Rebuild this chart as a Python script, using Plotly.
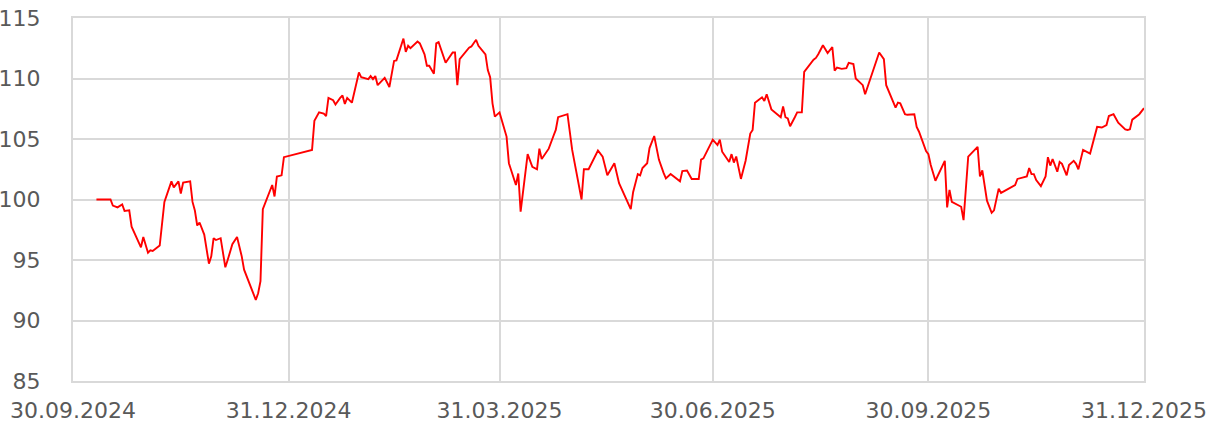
import plotly.graph_objects as go

dates = [
    "2024-10-10", "2024-10-16", "2024-10-17", "2024-10-19", "2024-10-21", "2024-10-22", "2024-10-24", "2024-10-25",
    "2024-10-29", "2024-10-30", "2024-11-01", "2024-11-02", "2024-11-03", "2024-11-06", "2024-11-08", "2024-11-11",
    "2024-11-12", "2024-11-14", "2024-11-15", "2024-11-16", "2024-11-19", "2024-11-20", "2024-11-21", "2024-11-22",
    "2024-11-23", "2024-11-25", "2024-11-27", "2024-11-28", "2024-11-29", "2024-11-30", "2024-12-02", "2024-12-04",
    "2024-12-05", "2024-12-07", "2024-12-09", "2024-12-11", "2024-12-12", "2024-12-17", "2024-12-18", "2024-12-19",
    "2024-12-20", "2024-12-24", "2024-12-25", "2024-12-26", "2024-12-28", "2024-12-29",
    "2025-01-10", "2025-01-11", "2025-01-13", "2025-01-15", "2025-01-16", "2025-01-17", "2025-01-19", "2025-01-20",
    "2025-01-22", "2025-01-23", "2025-01-24", "2025-01-25", "2025-01-27", "2025-01-28", "2025-01-30", "2025-01-31",
    "2025-02-03", "2025-02-04", "2025-02-05", "2025-02-06", "2025-02-07", "2025-02-10", "2025-02-12", "2025-02-14",
    "2025-02-15", "2025-02-18", "2025-02-19", "2025-02-20", "2025-02-21", "2025-02-24", "2025-02-25", "2025-02-27",
    "2025-02-28", "2025-03-01", "2025-03-03", "2025-03-04", "2025-03-05", "2025-03-08", "2025-03-11", "2025-03-12",
    "2025-03-13", "2025-03-14", "2025-03-18", "2025-03-19", "2025-03-21", "2025-03-22", "2025-03-25", "2025-03-26",
    "2025-03-27", "2025-03-28", "2025-03-29", "2025-03-31", "2025-04-03", "2025-04-04", "2025-04-07", "2025-04-08",
    "2025-04-09", "2025-04-12", "2025-04-14", "2025-04-16", "2025-04-17", "2025-04-18", "2025-04-21", "2025-04-23",
    "2025-04-24", "2025-04-25", "2025-04-29", "2025-05-01", "2025-05-05", "2025-05-06", "2025-05-08", "2025-05-12",
    "2025-05-14", "2025-05-16", "2025-05-19", "2025-05-21", "2025-05-26", "2025-05-27", "2025-05-29", "2025-05-30",
    "2025-05-31", "2025-06-02", "2025-06-03", "2025-06-05", "2025-06-07", "2025-06-09", "2025-06-10", "2025-06-12",
    "2025-06-16", "2025-06-17", "2025-06-19", "2025-06-21", "2025-06-24", "2025-06-25", "2025-06-26", "2025-06-30",
    "2025-07-02", "2025-07-03", "2025-07-04", "2025-07-07", "2025-07-08", "2025-07-09", "2025-07-10", "2025-07-12",
    "2025-07-14", "2025-07-16", "2025-07-17", "2025-07-18", "2025-07-21", "2025-07-22", "2025-07-23", "2025-07-25",
    "2025-07-29", "2025-07-30", "2025-07-31", "2025-08-01", "2025-08-02", "2025-08-04", "2025-08-05", "2025-08-07",
    "2025-08-08", "2025-08-12", "2025-08-13", "2025-08-14", "2025-08-16", "2025-08-18", "2025-08-20", "2025-08-21",
    "2025-08-22", "2025-08-24", "2025-08-26", "2025-08-27", "2025-08-29", "2025-08-30", "2025-08-31", "2025-09-02",
    "2025-09-03", "2025-09-04", "2025-09-09", "2025-09-11", "2025-09-12", "2025-09-16", "2025-09-17", "2025-09-18",
    "2025-09-20", "2025-09-21", "2025-09-24", "2025-09-25", "2025-09-26", "2025-09-29", "2025-09-30", "2025-10-01",
    "2025-10-03", "2025-10-07", "2025-10-08", "2025-10-09", "2025-10-10", "2025-10-14", "2025-10-15", "2025-10-17",
    "2025-10-21", "2025-10-22", "2025-10-23", "2025-10-25", "2025-10-27", "2025-10-28", "2025-10-30", "2025-10-31",
    "2025-11-06", "2025-11-07", "2025-11-11", "2025-11-12", "2025-11-13", "2025-11-14", "2025-11-15", "2025-11-17",
    "2025-11-19", "2025-11-20", "2025-11-21", "2025-11-22", "2025-11-24", "2025-11-25", "2025-11-26", "2025-11-28",
    "2025-11-29", "2025-12-01", "2025-12-02", "2025-12-03", "2025-12-05", "2025-12-08", "2025-12-10", "2025-12-11",
    "2025-12-13", "2025-12-15", "2025-12-16", "2025-12-18", "2025-12-20", "2025-12-23", "2025-12-24", "2025-12-25",
    "2025-12-26", "2025-12-29", "2025-12-31",
]

values = [
    100.0, 100.0, 99.5, 99.35, 99.6, 99.05, 99.1, 97.75,
    96.05, 96.9, 95.6, 95.8, 95.75, 96.2, 99.8, 101.5,
    101.0, 101.5, 100.5, 101.4, 101.5, 99.8, 99.1, 97.85,
    98.1, 97.1, 94.7, 95.3, 96.8, 96.65, 96.8, 94.4,
    95.0, 96.3, 96.9, 95.3, 94.2, 91.7, 92.25, 93.25,
    99.2, 101.2, 100.25, 101.9, 102.0, 103.5,
    104.1, 106.5, 107.2, 107.1, 106.9, 108.4, 108.2, 107.85,
    108.4, 108.6, 107.9, 108.4, 108.0, 108.9, 110.5, 110.1,
    109.95, 110.2, 109.95, 110.2, 109.45, 110.05, 109.3, 111.45,
    111.5, 113.3, 112.2, 112.7, 112.5, 113.05, 112.9, 112.0,
    111.05, 111.05, 110.4, 112.9, 113.0, 111.3, 112.15, 112.15,
    109.45, 111.6, 112.55, 112.65, 113.2, 112.7, 112.0, 110.7,
    110.1, 107.95, 106.85, 107.2, 105.2, 103.0, 101.2, 102.15,
    99.0, 103.75, 102.7, 102.5, 104.2, 103.35, 104.2, 105.25,
    105.75, 106.8, 107.05, 104.1, 100.0, 102.5, 102.5, 104.05,
    103.55, 102.0, 103.0, 101.35, 99.2, 100.6, 102.1, 102.0,
    102.6, 103.0, 104.25, 105.25, 103.3, 102.2, 101.75, 102.1,
    101.5, 102.35, 102.4, 101.7, 101.7, 103.3, 103.4, 104.95,
    104.5, 104.95, 103.95, 103.1, 103.75, 103.05, 103.55, 101.7,
    103.2, 105.45, 105.75, 108.0, 108.45, 108.15, 108.7, 107.45,
    106.8, 107.7, 106.8, 106.7, 106.05, 106.8, 107.2, 107.2,
    110.55, 111.55, 111.7, 112.0, 112.75, 112.1, 112.6, 110.65,
    110.9, 110.8, 110.85, 111.3, 111.2, 110.0, 109.8, 109.45,
    108.7, 109.3, 112.15, 111.6, 109.45, 107.6, 108.0, 107.95,
    107.05, 107.0, 107.05, 106.0, 105.6, 104.0, 103.75, 102.85,
    101.55, 103.2, 99.35, 100.8, 99.8, 99.4, 98.3, 103.55,
    104.35, 101.9, 102.4, 99.9, 98.9, 99.1, 100.9, 100.55,
    101.2, 101.7, 101.9, 102.6, 102.1, 102.1, 101.6, 101.1,
    101.9, 103.5, 102.8, 103.35, 102.3, 103.1, 102.95, 102.0,
    102.85, 103.2, 102.95, 102.5, 104.1, 103.8, 105.15, 106.0,
    105.95, 106.15, 106.9, 107.05, 106.35, 105.8, 105.75, 105.8,
    106.6, 107.05, 107.55,
]

x_tick_dates = ["2024-09-30", "2024-12-31", "2025-03-31", "2025-06-30", "2025-09-30", "2025-12-31"]
x_tick_labels = ["30.09.2024", "31.12.2024", "31.03.2025", "30.06.2025", "30.09.2025", "31.12.2025"]
y_ticks = [85, 90, 95, 100, 105, 110, 115]

grid_color = "#d9d9d9"
text_color = "#595959"
font_family = "DejaVu Sans"
font_size = 22

fig = go.Figure()
fig.add_trace(go.Scatter(
    x=dates, y=values, mode="lines",
    line=dict(color="#ff0000", width=1.9),
    hoverinfo="x+y", showlegend=False,
))

fig.update_layout(
    width=1214, height=426,
    margin=dict(l=73, r=70, t=18, b=45, autoexpand=False),
    paper_bgcolor="white", plot_bgcolor="white",
    font=dict(family=font_family, size=font_size, color=text_color),
    xaxis=dict(
        type="date", automargin=False,
        range=[x_tick_dates[0], x_tick_dates[-1]],
        tickmode="array", tickvals=x_tick_dates, ticktext=x_tick_labels,
        showgrid=True, gridcolor=grid_color, gridwidth=2,
        showline=True, linecolor=grid_color, linewidth=2, mirror=True,
        ticks="", ticklabelstandoff=9, zeroline=False,
        tickfont=dict(family=font_family, size=font_size, color=text_color),
    ),
    yaxis=dict(
        range=[85, 115], automargin=False,
        tickmode="array", tickvals=y_ticks,
        showgrid=True, gridcolor=grid_color, gridwidth=2,
        showline=True, linecolor=grid_color, linewidth=2, mirror=True,
        ticks="", ticklabelstandoff=26, zeroline=False,
        tickfont=dict(family=font_family, size=font_size, color=text_color),
    ),
)

fig.write_html(
    "out.html",
    config={"displayModeBar": False},
    post_script="document.body.style.margin='0px';document.body.style.overflow='hidden';",
)
